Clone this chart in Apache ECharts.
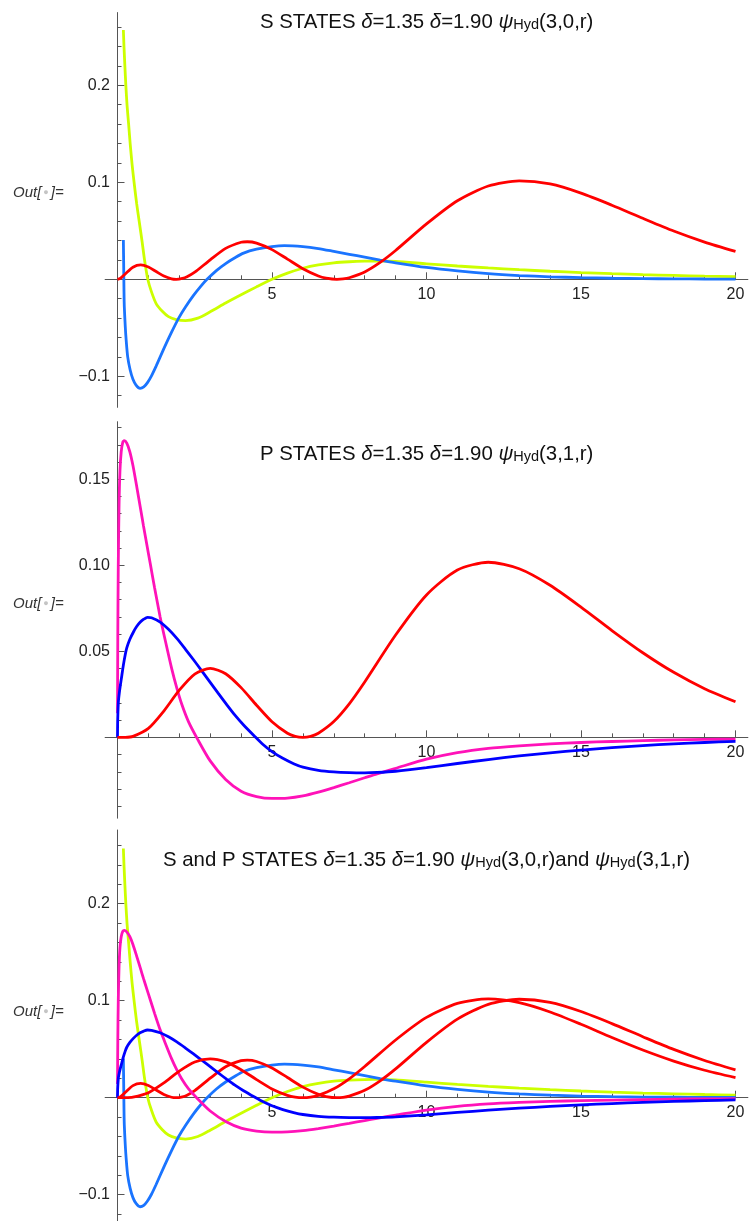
<!DOCTYPE html>
<html>
<head>
<meta charset="utf-8">
<script src="https://cdn.jsdelivr.net/npm/echarts@6/dist/echarts.min.js"></script>
<style>
html,body{margin:0;padding:0;background:#fff;}
#chart{width:749px;height:1221px;}
</style>
</head>
<body>
<div id="chart"></div>
<script>
// ---------- Data ----------
// S states
const yellowX = [0.19,0.21,0.24,0.27,0.31,0.36,0.41,0.47,0.54,0.62,0.71,0.8,0.875,0.98,1.1,1.25,1.45,1.65,1.9,2.2,2.6,3.0,3.5,4.0,4.5,5.0,5.5,6,6.5,7,7.5,8,8.5,9,10,11,12,13,14,15,16,17,18,19,20];
const yellowY = [0.257,0.24,0.219,0.200,0.179,0.160,0.140,0.119,0.099,0.078,0.058,0.038,0.020,0.0,-0.013,-0.025,-0.033,-0.0385,-0.0415,-0.0426,-0.0400,-0.0335,-0.0245,-0.0160,-0.0078,0.0,0.0064,0.0114,0.0148,0.0170,0.0181,0.0187,0.0189,0.0184,0.0160,0.0137,0.0117,0.0099,0.0083,0.0069,0.0058,0.0048,0.0040,0.0033,0.0027];

const lightBlueX = [0.19,0.2,0.21,0.22,0.25,0.28,0.33,0.41,0.5,0.6,0.73,0.85,0.97,1.1,1.25,1.5,1.75,1.98,2.2,2.46,2.7,2.89,3.2,3.5,3.8,4.08,4.5,5.0,5.4,6,6.5,7,7.5,8,8.5,9,10,11,12,13,14,15,16,17,18,19,20];
const lightBlueY = [0.0405,0.015,-0.012,-0.028,-0.048,-0.0625,-0.080,-0.0935,-0.103,-0.109,-0.1124,-0.111,-0.1065,-0.0995,-0.0895,-0.0715,-0.0545,-0.0400,-0.0286,-0.0166,-0.0070,-0.0003,0.0090,0.0162,0.0222,0.0270,0.0310,0.0337,0.0347,0.0337,0.0317,0.0288,0.0258,0.0228,0.0198,0.0170,0.0122,0.0086,0.0058,0.0039,0.0026,0.0017,0.0011,0.0007,0.0005,0.0003,0.0002];

const redSX = [0,0.1,0.25,0.5,0.75,1,1.25,1.5,1.75,1.9,2.1,2.25,2.5,3,3.5,4,4.2,4.5,5,5.5,6,6.5,6.75,7.1,7.3,7.5,8,8.5,9,10,11,12,13,14,15,16,17,18,19,20];
const redSY = [0,0.0012,0.0055,0.0125,0.0148,0.0126,0.0080,0.0034,0.0005,0.0,0.0009,0.0026,0.0073,0.0201,0.0319,0.0382,0.0387,0.0373,0.0306,0.0208,0.0109,0.0034,0.0012,0.0,0.0004,0.0016,0.0076,0.0174,0.0297,0.0571,0.0810,0.0962,0.1015,0.0983,0.0889,0.0764,0.0629,0.0498,0.0384,0.0287];

// P states
const magentaX = [0,0.01,0.025,0.05,0.08,0.12,0.17,0.22,0.3,0.4,0.5,0.63,0.75,0.84,0.95,1.06,1.2,1.38,1.55,1.76,1.92,2.08,2.3,2.59,3.0,3.5,4.0,4.5,5.0,5.5,6.0,6.5,7.0,7.5,8.0,8.4,9,10,11,12,13,14,15,16,17,18,19,20];
const magentaY = [0.014,0.06,0.10,0.135,0.155,0.166,0.1715,0.1725,0.171,0.166,0.158,0.145,0.1325,0.1230,0.1120,0.1010,0.0870,0.0700,0.0560,0.0395,0.0286,0.0192,0.0090,-0.0010,-0.0137,-0.0245,-0.0313,-0.0344,-0.0355,-0.0353,-0.0340,-0.0318,-0.0292,-0.0264,-0.0235,-0.0212,-0.0180,-0.0127,-0.0089,-0.0064,-0.0049,-0.0038,-0.0030,-0.0024,-0.0019,-0.0015,-0.0012,-0.0010];

const darkBlueX = [0,0.005,0.015,0.03,0.06,0.09,0.14,0.19,0.25,0.3,0.4,0.52,0.62,0.73,0.85,0.97,1.1,1.38,1.65,1.92,2.2,2.46,2.75,3.0,3.25,3.54,3.8,4.08,4.45,4.7,5.0,5.35,5.7,6.0,6.5,7.0,7.5,8.0,8.4,9,10,11,12,13,14,15,16,17,18,19,20];
const darkBlueY = [0,0.009,0.015,0.021,0.026,0.030,0.036,0.042,0.048,0.052,0.0570,0.0614,0.0644,0.0669,0.0687,0.0698,0.0695,0.0670,0.0628,0.0575,0.0512,0.0451,0.0381,0.0320,0.0259,0.0189,0.0129,0.0072,0.0004,-0.0040,-0.0083,-0.0122,-0.0153,-0.0173,-0.0192,-0.0201,-0.0205,-0.0206,-0.0204,-0.0197,-0.0176,-0.0152,-0.0129,-0.0108,-0.0090,-0.0074,-0.0060,-0.0048,-0.0038,-0.0030,-0.0023];

const redPX = [0,0.25,0.5,1,1.5,2,2.5,3,3.5,4,4.5,5,5.5,5.75,6,6.25,6.5,7,7.5,8,9,10,11,12,13,14,15,16,17,18,19,20];
const redPY = [0,0.00004,0.0006,0.0052,0.0153,0.0274,0.0368,0.0401,0.0370,0.0289,0.0187,0.0091,0.0024,0.0006,0.0,0.0006,0.0024,0.0092,0.0195,0.0322,0.0595,0.0828,0.0973,0.1018,0.0980,0.0884,0.0757,0.0621,0.0492,0.0378,0.0283,0.0207];

// Ticks and tick labels
const xMajor = [5, 10, 15, 20];
const xMajorLabels = ['5', '10', '15', '20'];
const xMinor = [1,2,3,4,6,7,8,9,11,12,13,14,16,17,18,19];
const ySMajor = [-0.1, 0.1, 0.2];
const ySMajorLabels = ['\u22120.1', '0.1', '0.2'];
const ySMinor = [-0.12,-0.08,-0.06,-0.04,-0.02,0.02,0.04,0.06,0.08,0.12,0.14,0.16,0.18,0.22,0.24,0.26];
const yPMajor = [0.05, 0.10, 0.15];
const yPMajorLabels = ['0.05', '0.10', '0.15'];
const yPMinor = [-0.04,-0.03,-0.02,-0.01,0.01,0.02,0.03,0.04,0.06,0.07,0.08,0.09,0.11,0.12,0.13,0.14,0.16,0.17,0.18];

const titles = [
  'S STATES {i|\u03b4}=1.35 {i|\u03b4}=1.90 {i|\u03c8}{s|Hyd}(3,0,r)',
  'P STATES {i|\u03b4}=1.35 {i|\u03b4}=1.90 {i|\u03c8}{s|Hyd}(3,1,r)',
  'S and P STATES {i|\u03b4}=1.35 {i|\u03b4}=1.90 {i|\u03c8}{s|Hyd}(3,0,r)and {i|\u03c8}{s|Hyd}(3,1,r)'
];

// ---------- Colours / style ----------
const C_YEL = '#ccff00', C_LBLUE = '#1a74ff', C_RED = '#ff0000', C_MAG = '#ff12b8', C_DBLUE = '#0000ff';
const FONT = '"Liberation Sans", Arial, sans-serif';
const AXIS_COLOR = '#555';
const LABEL_COLOR = '#222';
const LW = 2.8;

// ---------- Layout of panels ----------
const X0PX = 117.5, XSCALE = 30.9; // pixel of x=0, pixels per x unit
const panels = [
  {top: 12.55, height: 394.8, min: -0.132, max: 0.275, major: ySMajor, labels: ySMajorLabels, minor: ySMinor},
  {top: 421.7, height: 396.5, min: -0.047, max: 0.1835, major: yPMajor, labels: yPMajorLabels, minor: yPMinor},
  {top: 830.0, height: 390.9, min: -0.127, max: 0.276, major: ySMajor, labels: ySMajorLabels, minor: ySMinor}
];
const XMIN = -0.4, XMAX = 20.4;

const grids = [], xAxes = [], yAxes = [], series = [];
const hidden = {show: false};
const dataAxisIdx = [];
panels.forEach((p, g) => {
  const gridLeft = X0PX + XMIN * XSCALE, gridWidth = (XMAX - XMIN) * XSCALE;
  const zeroY = p.top + p.max / (p.max - p.min) * p.height;
  // data grid (axis lines + ticks on zero)
  const gd = grids.length;
  grids.push({left: gridLeft, width: gridWidth, top: p.top, height: p.height});
  const xi = xAxes.length, yi = yAxes.length;
  dataAxisIdx.push({x: xi, y: yi});
  xAxes.push({
    type: 'value', gridIndex: gd, min: XMIN, max: XMAX, position: 'bottom',
    axisLine: {show: true, onZero: true, onZeroAxisIndex: yi, lineStyle: {color: AXIS_COLOR, width: 1}},
    axisTick: {show: true, inside: true, length: 7, customValues: xMajor, lineStyle: {color: AXIS_COLOR}},
    axisLabel: {show: false}, splitLine: {show: false}
  });
  xAxes.push({
    type: 'value', gridIndex: gd, min: XMIN, max: XMAX, position: 'bottom',
    axisLine: {show: false, onZero: true, onZeroAxisIndex: yi},
    axisTick: {show: true, inside: true, length: 4, customValues: xMinor, lineStyle: {color: AXIS_COLOR}},
    axisLabel: {show: false}, splitLine: {show: false}
  });
  yAxes.push({
    type: 'value', gridIndex: gd, min: p.min, max: p.max, position: 'left',
    axisLine: {show: true, onZero: true, onZeroAxisIndex: xi, lineStyle: {color: AXIS_COLOR, width: 1}},
    axisTick: {show: true, inside: true, length: 7, customValues: p.major, lineStyle: {color: AXIS_COLOR}},
    axisLabel: {show: false}, splitLine: {show: false}
  });
  yAxes.push({
    type: 'value', gridIndex: gd, min: p.min, max: p.max, position: 'left',
    axisLine: {show: false, onZero: true, onZeroAxisIndex: xi},
    axisTick: {show: true, inside: true, length: 4, customValues: p.minor, lineStyle: {color: AXIS_COLOR}},
    axisLabel: {show: false}, splitLine: {show: false}
  });
  // x-label grid: its bottom edge is the zero line
  const gx = grids.length;
  grids.push({left: gridLeft, width: gridWidth, top: p.top, height: zeroY - p.top});
  xAxes.push({
    type: 'value', gridIndex: gx, min: XMIN, max: XMAX, position: 'bottom',
    axisLine: hidden, axisTick: hidden, splitLine: hidden,
    axisLabel: {show: true, customValues: xMajor, margin: 7, fontSize: 16, fontFamily: FONT, color: LABEL_COLOR,
      formatter: v => { const k = xMajor.indexOf(v); return k >= 0 ? xMajorLabels[k] : ''; }}
  });
  yAxes.push({type: 'value', gridIndex: gx, min: 0, max: p.max, show: false});
  // y-label grid: its left edge is x = 0
  const gy = grids.length;
  grids.push({left: X0PX, width: XMAX * XSCALE, top: p.top, height: p.height});
  xAxes.push({type: 'value', gridIndex: gy, min: 0, max: XMAX, show: false});
  yAxes.push({
    type: 'value', gridIndex: gy, min: p.min, max: p.max, position: 'left',
    axisLine: hidden, axisTick: hidden, splitLine: hidden,
    axisLabel: {show: true, customValues: p.major, margin: 7.5, fontSize: 16, fontFamily: FONT, color: LABEL_COLOR,
      formatter: v => { const k = p.major.findIndex(m => Math.abs(m - v) < 1e-9); return k >= 0 ? p.labels[k] : ''; }}
  });
});

function line(xs, ys, color, g) {
  return {
    type: 'line', xAxisIndex: dataAxisIdx[g].x, yAxisIndex: dataAxisIdx[g].y,
    data: xs.map((x, i) => [x, ys[i]]),
    showSymbol: false, symbol: 'none', smooth: 0.25,
    lineStyle: {color: color, width: LW}, itemStyle: {color: color},
    clip: true, silent: true
  };
}
// Panel 1: S states
series.push(line(yellowX, yellowY, C_YEL, 0));
series.push(line(lightBlueX, lightBlueY, C_LBLUE, 0));
series.push(line(redSX, redSY, C_RED, 0));
// Panel 2: P states
series.push(line(magentaX, magentaY, C_MAG, 1));
series.push(line(darkBlueX, darkBlueY, C_DBLUE, 1));
series.push(line(redPX, redPY, C_RED, 1));
// Panel 3: S and P
series.push(line(yellowX, yellowY, C_YEL, 2));
series.push(line(lightBlueX, lightBlueY, C_LBLUE, 2));
series.push(line(redSX, redSY, C_RED, 2));
series.push(line(magentaX, magentaY, C_MAG, 2));
series.push(line(darkBlueX, darkBlueY, C_DBLUE, 2));
series.push(line(redPX, redPY, C_RED, 2));

const titlePos = [{left: 260, top: 12}, {left: 260, top: 444}, {left: 163, top: 850}];
const outTops = [185, 596, 1004];
const graphic = [];
titles.forEach((t, k) => {
  graphic.push({
    type: 'text', left: titlePos[k].left, top: titlePos[k].top, z: 10,
    style: {
      text: t, fontSize: 20.4, fontFamily: FONT, fill: '#111',
      rich: {
        i: {fontSize: 20.4, fontStyle: 'italic', fontFamily: FONT, fill: '#111'},
        s: {fontSize: 14.5, fontFamily: FONT, fill: '#111', verticalAlign: 'bottom'}
      }
    }
  });
});
outTops.forEach(tp => {
  graphic.push({
    type: 'text', left: 13, top: tp, z: 10,
    style: {
      text: 'Out[{d|\u25cf}]=', fontSize: 15, fontStyle: 'italic', fontFamily: FONT, fill: '#333',
      rich: {d: {fontSize: 9, fill: '#c4c4c4', fontFamily: FONT, padding: [0, 2, 0, 2]}}
    }
  });
});

const chart = echarts.init(document.getElementById('chart'), null, {renderer: 'canvas'});
chart.setOption({
  backgroundColor: '#ffffff',
  animation: false,
  grid: grids,
  xAxis: xAxes,
  yAxis: yAxes,
  series: series,
  graphic: graphic
});
</script>
</body>
</html>
